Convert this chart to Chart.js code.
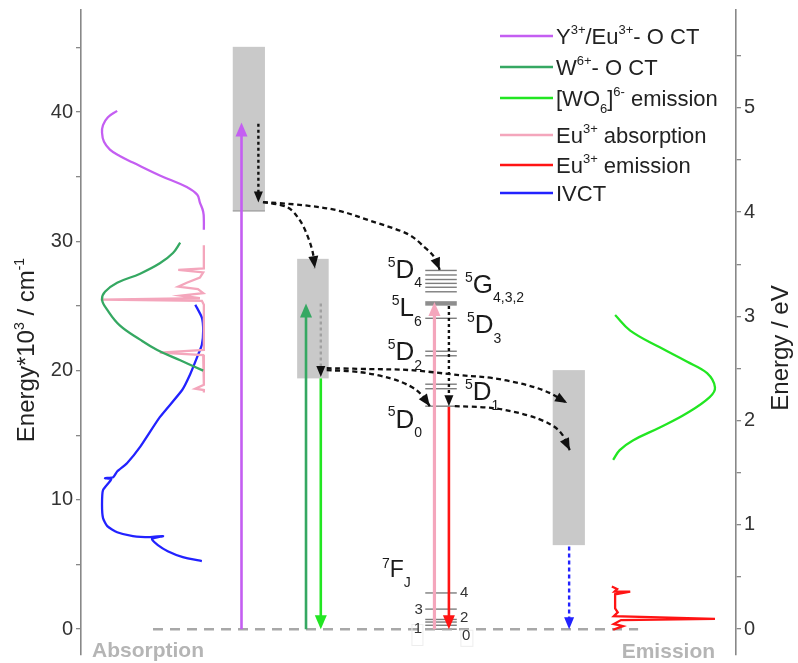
<!DOCTYPE html>
<html>
<head>
<meta charset="utf-8">
<script src="https://cdn.jsdelivr.net/npm/chart.js@4.4.0/dist/chart.umd.min.js"></script>
<style>
  html, body { margin: 0; padding: 0; background: #fff; }
  canvas { display: block; }
</style>
</head>
<body>
<canvas id="chart" width="798" height="663"></canvas>
<script>
const FONT = '"Liberation Sans", Arial, Helvetica, sans-serif';
const CM_PER_EV = 8.0655;      // 10^3 cm-1 per eV
const X_MAX = 99.7;            // diagram positions, arbitrary units
const E_MIN = -2.0, E_MAX = 47.9;

// spectra: [position, energy*10^3 cm-1]
const absYEuCT = [[5.5,40.1],[4.1,39.6],[3.35,39.0],[3.2,38.4],[3.5,37.7],[4.4,37.1],[5.9,36.6],[7.9,36.1],
  [12.0,35.1],[16.1,34.2],[17.7,33.6],[18.1,33.0],[18.6,32.3],[18.7,31.6],[18.7,30.9]];
const absWOCT = [[15.1,29.9],[14.0,29.1],[12.0,28.3],[9.0,27.5],[5.5,26.8],[3.65,26.1],[3.2,25.5],[4.0,24.7],
  [5.9,23.5],[9.0,22.4],[11.6,21.6],[15.1,20.8],[18.6,20.0]];
const emWO6 = [[81.3,24.3],[83.6,23.1],[88.1,21.8],[92.2,20.7],[95.3,19.8],[96.5,18.7],[95.7,17.95],[92.2,16.7],
  [88.1,15.6],[84.0,14.6],[82.0,13.85],[81.0,13.1]];
const absEu = [[18.7,29.7],[18.7,27.9],[14.8,27.8],[18.6,27.6],[18.1,27.2],[16.1,26.8],[14.8,26.5],[17.8,26.3],
  [18.6,26.0],[15.2,25.8],[18.1,25.6],[3.0,25.5],[18.4,25.4],[18.7,25.1],[18.7,21.6],[12.0,21.4],[18.6,21.2],
  [18.7,18.9],[17.4,18.6],[18.7,18.5],[18.7,18.3]];
const emEu = [[80.8,3.3],[81.6,3.1],[81.2,2.9],[83.6,2.9],[81.3,2.7],[81.3,1.6],[81.7,1.3],[81.1,1.0],
  [96.5,0.8],[82.2,0.7],[81.1,0.4],[82.5,0.23],[81.0,-0.05]];
const absIVCT = [[17.4,25.1],[18.4,24.1],[18.6,23.1],[18.4,22.0],[17.8,21.2],[16.6,19.7],[15.4,18.5],[12.0,16.4],
  [9.0,14.1],[7.0,12.84],[5.5,12.2],[4.9,11.76],[3.65,11.68],[4.6,11.6],[3.35,10.75],[3.2,9.6],[3.35,8.6],
  [4.0,7.97],[5.5,7.5],[7.9,7.2],[10.5,7.12],[12.5,7.2],[10.8,6.96],[11.7,6.5],[13.2,6.03],[15.5,5.57],[18.4,5.26]];

const LEGEND_LABELS = ['Y^{3+}/Eu^{3+}- O CT', 'W^{6+}- O CT', '[WO_{6}]^{6-} emission',
  'Eu^{3+} absorption', 'Eu^{3+} emission', 'IVCT'];

// grey bands: position range and energy range
const BAND_X = [[23.1, 28.0], [32.9, 37.7], [71.8, 76.7]];
const BAND_E = [[32.35, 45.05], [19.4, 28.65], [6.5, 20.04]];

// Eu3+ levels
const LEVEL_X = [52.4, 57.2];
const LEVELS_5D = [27.75, 27.4, 27.05, 26.75, 26.45, 26.1, 24.05, 21.5, 21.15, 18.95, 18.6, 17.25];
const LEVEL_5L6 = 25.2;
const LEVELS_7F = [2.8, 1.55, 0.75, 0.55, 0.3, 0];

// vertical transitions: [position, from, to]
const SOLID_ARROWS = [[24.43, 0, 39.2], [34.25, 0, 25.2], [53.8, 0, 25.3], [36.5, 19.4, 0], [56.0, 17.2, 0]];
const DOTTED_ARROWS = [[27.0, 39.1, 33.0], [56.0, 25.0, 17.25], [36.5, 25.2, 19.5]];
const IVCT_ARROW = [74.3, 6.4, 0];

// non-radiative transfers: [position, energy] paths
const TRANSFER_1 = [[27.7,33.04],[33.8,32.8],[39.0,32.4],[44.0,31.6],[49.6,30.6],[52.4,29.5],[53.9,28.7],[54.6,27.8]];
const TRANSFER_2 = [[27.7,33.04],[31.35,32.65],[33.3,31.64],[34.55,30.33],[35.3,29.09],[35.6,27.93]];
const TRANSFER_3 = [[37.4,20.04],[42.5,19.88],[47.0,19.42],[50.1,18.8],[51.9,18.1],[53.1,17.25]];
const TRANSFER_4 = [[37.4,20.19],[44.0,20.12],[50.1,20.04],[57.7,19.65],[62.7,19.42],[67.9,18.88],[71.4,18.26],[74.0,17.49]];
const TRANSFER_5 = [[56.9,17.25],[62.7,17.1],[67.9,16.56],[71.4,15.86],[73.2,15.09],[74.4,13.85]];

const LEVEL_LABELS = ['^{5}D_{4}', '^{5}G_{4,3,2}', '^{5}L_{6}', '^{5}D_{3}', '^{5}D_{2}', '^{5}D_{1}', '^{5}D_{0}'];
const J_LABELS = ['4', '3', '2', '1', '0'];

const C_PURPLE = '#c45ef2';
const C_GREEN_CT = '#35a862';
const C_GREEN_EM = '#22e622';
const C_PINK = '#f4a6bc';
const C_RED = '#ff1414';
const C_BLUE = '#2222ff';

const pts = arr => arr.map(([x, y]) => ({ x, y }));

function parseRich(s) {
  const out = [];
  const re = /([\^_])\{([^}]*)\}|([^\^_]+)/g;
  let m;
  while ((m = re.exec(s))) {
    if (m[1]) out.push({ t: m[2], k: m[1] === '^' ? 'sup' : 'sub' });
    else out.push({ t: m[3], k: 'n' });
  }
  return out;
}

function drawRich(ctx, str, x, y, size, o = {}) {
  const parts = parseRich(str);
  const small = Math.round(size * (o.scale || 0.6));
  const rise = size * (o.rise || 0.42), drop = size * (o.drop || 0.3);
  const w = o.weight || 'normal';
  let total = 0;
  const ws = parts.map(p => {
    ctx.font = `${w} ${p.k === 'n' ? size : small}px ${FONT}`;
    const d = ctx.measureText(p.t).width;
    total += d;
    return d;
  });
  let cx = o.align === 'center' ? x - total / 2 : o.align === 'right' ? x - total : x;
  ctx.textAlign = 'left';
  ctx.textBaseline = 'alphabetic';
  ctx.fillStyle = o.color || '#222';
  parts.forEach((p, i) => {
    ctx.font = `${w} ${p.k === 'n' ? size : small}px ${FONT}`;
    ctx.fillText(p.t, cx, y + (p.k === 'sup' ? -rise : p.k === 'sub' ? drop : 0));
    cx += ws[i];
  });
}

function head(ctx, x, y, ang, len, wid, color) {
  ctx.save();
  ctx.translate(x, y);
  ctx.rotate(ang);
  ctx.beginPath();
  ctx.moveTo(0, 0);
  ctx.lineTo(-len, -wid / 2);
  ctx.lineTo(-len, wid / 2);
  ctx.closePath();
  ctx.fillStyle = color;
  ctx.fill();
  ctx.restore();
}

function vArrow(ctx, X, Y, a, color, width, dash, headColor, hl, hw) {
  const x = X(a[0]), y0 = Y(a[1]), y1 = Y(a[2]);
  const dir = y1 > y0 ? 1 : -1;
  ctx.save();
  ctx.strokeStyle = color;
  ctx.lineWidth = width;
  ctx.setLineDash(dash);
  ctx.beginPath();
  ctx.moveTo(x, y0);
  ctx.lineTo(x, y1 - dir * hl * 0.8);
  ctx.stroke();
  ctx.restore();
  head(ctx, x, y1, dir > 0 ? Math.PI / 2 : -Math.PI / 2, hl, hw, headColor || color);
}

function curve(ctx, X, Y, path) {
  const p = path.map(([x, e]) => [X(x), Y(e)]);
  ctx.save();
  ctx.strokeStyle = '#111';
  ctx.lineWidth = 2.3;
  ctx.setLineDash([5, 3.5]);
  ctx.beginPath();
  ctx.moveTo(p[0][0], p[0][1]);
  for (let i = 0; i < p.length - 1; i++) {
    const a = p[Math.max(i - 1, 0)], b = p[i], c = p[i + 1], d = p[Math.min(i + 2, p.length - 1)];
    ctx.bezierCurveTo(b[0] + (c[0] - a[0]) / 6, b[1] + (c[1] - a[1]) / 6,
      c[0] - (d[0] - b[0]) / 6, c[1] - (d[1] - b[1]) / 6, c[0], c[1]);
  }
  ctx.stroke();
  ctx.restore();
  const n = p.length;
  const ang = Math.atan2(p[n - 1][1] - p[n - 2][1], p[n - 1][0] - p[n - 2][0]);
  head(ctx, p[n - 1][0], p[n - 1][1], ang, 12, 10, '#111');
}

const diagram = {
  id: 'diagram',
  beforeDatasetsDraw(chart) {
    const { ctx } = chart;
    const X = v => chart.scales.x.getPixelForValue(v);
    const Y = v => chart.scales.y.getPixelForValue(v);
    ctx.save();
    ctx.fillStyle = '#c9c9c9';
    BAND_X.forEach((bx, i) => {
      const [e0, e1] = BAND_E[i];
      ctx.fillRect(X(bx[0]), Y(e1), X(bx[1]) - X(bx[0]), Y(e0) - Y(e1));
    });
    ctx.strokeStyle = '#8c8c8c';
    ctx.lineWidth = 1;
    ctx.beginPath();
    ctx.moveTo(X(BAND_X[0][0]), Y(BAND_E[0][0]));
    ctx.lineTo(X(BAND_X[0][1]), Y(BAND_E[0][0]));
    ctx.stroke();

    ctx.strokeStyle = '#7d7d7d';
    ctx.lineWidth = 1.4;
    [...LEVELS_5D, ...LEVELS_7F].forEach(e => {
      ctx.beginPath();
      ctx.moveTo(X(LEVEL_X[0]), Y(e));
      ctx.lineTo(X(LEVEL_X[1]), Y(e));
      ctx.stroke();
    });
    ctx.lineWidth = 4.5;
    ctx.strokeStyle = '#8e8e8e';
    ctx.beginPath();
    ctx.moveTo(X(LEVEL_X[0]), Y(LEVEL_5L6));
    ctx.lineTo(X(LEVEL_X[1]), Y(LEVEL_5L6));
    ctx.stroke();

    // ground-state baseline
    ctx.strokeStyle = '#a8a8a8';
    ctx.lineWidth = 2.5;
    ctx.setLineDash([10, 7]);
    ctx.beginPath();
    ctx.moveTo(X(10.96), Y(0));
    ctx.lineTo(X(84.8), Y(0));
    ctx.stroke();
    ctx.restore();
  },
  afterDatasetsDraw(chart) {
    const { ctx } = chart;
    const X = v => chart.scales.x.getPixelForValue(v);
    const Y = v => chart.scales.y.getPixelForValue(v);
    const solidColors = [C_PURPLE, C_GREEN_CT, C_PINK, C_GREEN_EM, C_RED];
    const dottedColors = ['#111', '#111', '#a0a0a0'];

    SOLID_ARROWS.forEach((a, i) => vArrow(ctx, X, Y, a, solidColors[i], i === 2 ? 3.2 : 2.6, [], null, 14, 12));
    DOTTED_ARROWS.forEach((a, i) => vArrow(ctx, X, Y, a, dottedColors[i], 2.4, [3, 3], '#111', 11, 9));
    vArrow(ctx, X, Y, IVCT_ARROW, C_BLUE, 2.4, [4, 3], null, 12, 10);
    [TRANSFER_1, TRANSFER_2, TRANSFER_3, TRANSFER_4, TRANSFER_5].forEach(p => curve(ctx, X, Y, p));

    ctx.save();
    // level labels
    const lvPos = [[46.7, 27.16], [58.45, 26.0], [47.3, 24.2], [58.75, 22.9], [46.7, 20.8], [58.45, 17.7], [46.7, 15.6]];
    LEVEL_LABELS.forEach((s, i) => drawRich(ctx, s, X(lvPos[i][0]), Y(lvPos[i][1]), 26,
      { scale: 0.54, rise: 0.43, drop: 0.36, color: '#1a1a1a' }));
    drawRich(ctx, '^{7}F_{J}', X(45.8), Y(4.0), 23, { scale: 0.6, rise: 0.42, drop: 0.4, color: '#1a1a1a' });
    const jPos = [[57.7, 2.48, 'left'], [52.05, 1.16, 'right'], [57.7, 0.54, 'left'], [51.9, -0.31, 'right'], [58.0, -0.85, 'left']];
    ctx.strokeStyle = '#ededed';
    ctx.lineWidth = 1;
    ctx.strokeRect(X(50.3) + 0.5, Y(0.4) + 0.5, 11, 21);
    ctx.strokeRect(X(57.75) + 0.5, Y(-0.05) + 0.5, 12, 16);
    J_LABELS.forEach((s, i) => drawRich(ctx, s, X(jPos[i][0]), Y(jPos[i][1]), 15, { align: jPos[i][2], color: '#333' }));

    // bottom captions
    drawRich(ctx, 'Absorption', X(1.67), Y(-2.17), 21, { weight: 'bold', color: '#b5b5b5' });
    drawRich(ctx, 'Emission', X(82.3), Y(-2.24), 21, { weight: 'bold', color: '#b5b5b5' });

    // legend
    const rows = [36, 67, 98, 135, 165, 193];
    chart.data.datasets.forEach((ds, i) => {
      ctx.strokeStyle = ds.borderColor;
      ctx.lineWidth = 2.5;
      ctx.beginPath();
      ctx.moveTo(500, rows[i]);
      ctx.lineTo(553, rows[i]);
      ctx.stroke();
      drawRich(ctx, ds.label, 556, rows[i] + 7.5, 22, { scale: 0.6, rise: 0.43, drop: 0.33, color: '#222' });
    });

    // axis titles
    ctx.translate(34, 350);
    ctx.rotate(-Math.PI / 2);
    drawRich(ctx, 'Energy*10^{3} / cm^{-1}', 0, 0, 24, { align: 'center', scale: 0.6, rise: 0.42, color: '#222' });
    ctx.setTransform(1, 0, 0, 1, 0, 0);
    ctx.translate(788, 348);
    ctx.rotate(-Math.PI / 2);
    drawRich(ctx, 'Energy / eV', 0, 0, 24, { align: 'center', color: '#222' });
    ctx.restore();
  },
};

const lineStyle = { showLine: true, pointRadius: 0, borderWidth: 2.3, fill: false };

const fitWidth = w => s => { s.width = w; s.paddingTop = 0; s.paddingBottom = 0; };

new Chart(document.getElementById('chart'), {
  type: 'scatter',
  data: {
    datasets: [
      { ...lineStyle, label: LEGEND_LABELS[0], data: pts(absYEuCT), borderColor: C_PURPLE, tension: 0.4 },
      { ...lineStyle, label: LEGEND_LABELS[1], data: pts(absWOCT), borderColor: C_GREEN_CT, tension: 0.4 },
      { ...lineStyle, label: LEGEND_LABELS[2], data: pts(emWO6), borderColor: C_GREEN_EM, tension: 0.4 },
      { ...lineStyle, label: LEGEND_LABELS[3], data: pts(absEu), borderColor: C_PINK, tension: 0 },
      { ...lineStyle, label: LEGEND_LABELS[4], data: pts(emEu), borderColor: C_RED, tension: 0 },
      { ...lineStyle, label: LEGEND_LABELS[5], data: pts(absIVCT), borderColor: C_BLUE, tension: 0.2 },
    ],
  },
  options: {
    responsive: false,
    animation: false,
    devicePixelRatio: 1,
    layout: { padding: { top: 10, bottom: 8, left: 0, right: 0 } },
    plugins: { legend: { display: false }, tooltip: { enabled: false } },
    scales: {
      x: { type: 'linear', min: 0, max: X_MAX, display: false },
      y: {
        type: 'linear', position: 'left', min: E_MIN, max: E_MAX,
        afterFit: fitWidth(81),
        afterBuildTicks: s => { s.ticks = [0, 5, 10, 15, 20, 25, 30, 35, 40, 45].map(v => ({ value: v })); },
        ticks: { callback: v => (v % 10 === 0 ? v : ''), color: '#333', padding: 3, font: { family: FONT, size: 20 } },
        grid: { drawOnChartArea: false, tickLength: 5, color: '#888', lineWidth: 1.3 },
        border: { display: true, color: '#888', width: 1.6 },
      },
      y2: {
        type: 'linear', position: 'right', min: E_MIN / CM_PER_EV, max: E_MAX / CM_PER_EV,
        afterFit: fitWidth(62),
        afterBuildTicks: s => { s.ticks = [0, 0.5, 1, 1.5, 2, 2.5, 3, 3.5, 4, 4.5, 5, 5.5].map(v => ({ value: v })); },
        ticks: { callback: v => (Number.isInteger(v) ? v : ''), color: '#333', padding: 3, font: { family: FONT, size: 20 } },
        grid: { drawOnChartArea: false, tickLength: 5, color: '#888', lineWidth: 1.3 },
        border: { display: true, color: '#888', width: 1.6 },
      },
    },
  },
  plugins: [diagram],
});
</script>
</body>
</html>
